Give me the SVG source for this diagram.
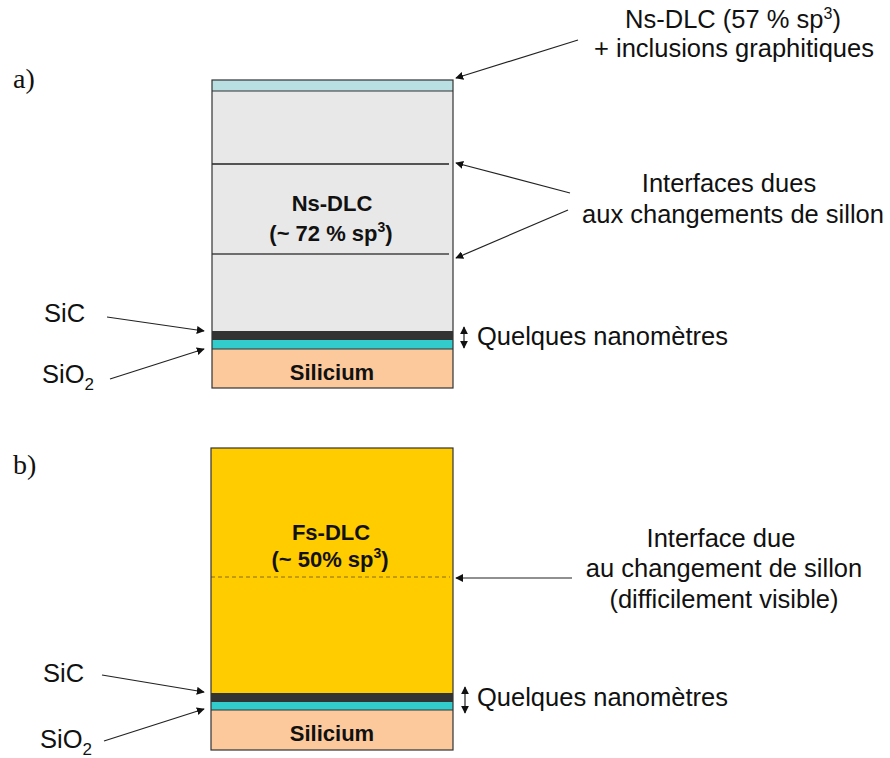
<svg xmlns="http://www.w3.org/2000/svg" width="890" height="758" viewBox="0 0 890 758">
<style>
.lbl{font-family:"Liberation Sans",Arial,sans-serif;font-size:25.5px;fill:#111}
.bold{font-family:"Liberation Sans",Arial,sans-serif;font-size:22px;font-weight:bold;fill:#111}
.tag{font-family:"Liberation Serif","Times New Roman",serif;font-size:28px;fill:#111}
.edge{fill:none;stroke:#333;stroke-width:1.2}
.conn{fill:none;stroke:#222;stroke-width:1.2;marker-end:url(#ah)}
.dbl{fill:none;stroke:#222;stroke-width:1.2;marker-start:url(#ah);marker-end:url(#ah)}
</style>
<defs>
<marker id="ah" viewBox="0 0 10 10" refX="9" refY="5" markerWidth="8" markerHeight="8" markerUnits="userSpaceOnUse" orient="auto-start-reverse">
<path d="M0,0 L10,5 L0,10 z" fill="#111"/>
</marker>
</defs>
<rect width="890" height="758" fill="#fff"/>

<text class="tag" x="13" y="88">a)</text>
<text class="tag" x="13" y="474">b)</text>

<g id="stackA">
<rect x="212" y="80" width="241" height="11" fill="#b9dfe2"/>
<rect x="212" y="91" width="241" height="240" fill="#e8e8e8"/>
<line x1="212" y1="91" x2="453" y2="91" stroke="#333" stroke-width="1.2"/>
<line x1="212" y1="164" x2="449" y2="164" stroke="#222" stroke-width="1.3"/>
<line x1="212" y1="254" x2="449" y2="254" stroke="#444" stroke-width="1.3"/>
<rect x="212" y="331" width="241" height="9" fill="#333333"/>
<rect x="212" y="340" width="241" height="9" fill="#33cccc"/>
<rect x="212" y="349" width="241" height="39" fill="#fbc99c"/>
<rect x="212" y="80" width="241" height="308" class="edge"/>
<line x1="212" y1="349" x2="453" y2="349" stroke="#333" stroke-width="1"/>
<text class="bold" x="332" y="211" text-anchor="middle">Ns-DLC</text>
<text class="bold" x="331" y="241" text-anchor="middle">(~ 72 % sp<tspan dy="-9" font-size="14">3</tspan><tspan dy="9">)</tspan></text>
<text class="bold" x="332" y="380" text-anchor="middle">Silicium</text>
</g>

<g id="stackB">
<rect x="211" y="448" width="242" height="245" fill="#ffcc00"/>
<line x1="211" y1="577" x2="450" y2="577" stroke="#8a6a20" stroke-width="1" stroke-dasharray="4,3"/>
<rect x="211" y="693" width="242" height="9" fill="#333333"/>
<rect x="211" y="702" width="242" height="8" fill="#33cccc"/>
<rect x="211" y="710" width="242" height="40" fill="#fbc99c"/>
<rect x="211" y="448" width="242" height="302" class="edge"/>
<line x1="211" y1="710" x2="453" y2="710" stroke="#333" stroke-width="1"/>
<text class="bold" x="331" y="540" text-anchor="middle">Fs-DLC</text>
<text class="bold" x="330" y="567" text-anchor="middle">(~ 50% sp<tspan dy="-9" font-size="14">3</tspan><tspan dy="9">)</tspan></text>
<text class="bold" x="332" y="741" text-anchor="middle">Silicium</text>
</g>

<g id="labelsA">
<text class="lbl" x="733" y="28" text-anchor="middle">Ns-DLC (57 % sp<tspan dy="-9" font-size="16">3</tspan><tspan dy="9">)</tspan></text>
<text class="lbl" x="734" y="57" text-anchor="middle">+ inclusions graphitiques</text>
<text class="lbl" x="729" y="192" text-anchor="middle">Interfaces dues</text>
<text class="lbl" x="733" y="223" text-anchor="middle">aux changements de sillon</text>
<text class="lbl" x="44" y="322">SiC</text>
<text class="lbl" x="42" y="383">SiO<tspan dy="7" font-size="17">2</tspan></text>
<text class="lbl" x="477" y="345">Quelques nanomètres</text>
</g>

<g id="labelsB">
<text class="lbl" x="721" y="547" text-anchor="middle">Interface due</text>
<text class="lbl" x="724" y="577" text-anchor="middle">au changement de sillon</text>
<text class="lbl" x="724" y="608" text-anchor="middle">(difficilement visible)</text>
<text class="lbl" x="43" y="682">SiC</text>
<text class="lbl" x="40" y="748">SiO<tspan dy="7" font-size="17">2</tspan></text>
<text class="lbl" x="477" y="706">Quelques nanomètres</text>
</g>

<g id="connectors">
<line class="conn" x1="578" y1="40" x2="456" y2="78"/>
<line class="conn" x1="570" y1="193" x2="456" y2="163"/>
<line class="conn" x1="568" y1="210" x2="456" y2="258"/>
<line class="conn" x1="107" y1="317" x2="204" y2="331"/>
<line class="conn" x1="110" y1="379" x2="204" y2="349"/>
<line class="dbl" x1="464" y1="327" x2="464" y2="348"/>
<line class="conn" x1="572" y1="578" x2="456" y2="578"/>
<line class="conn" x1="102" y1="675" x2="204" y2="692"/>
<line class="conn" x1="104" y1="741" x2="204" y2="709"/>
<line class="dbl" x1="465" y1="687" x2="465" y2="713"/>
</g>
</svg>
